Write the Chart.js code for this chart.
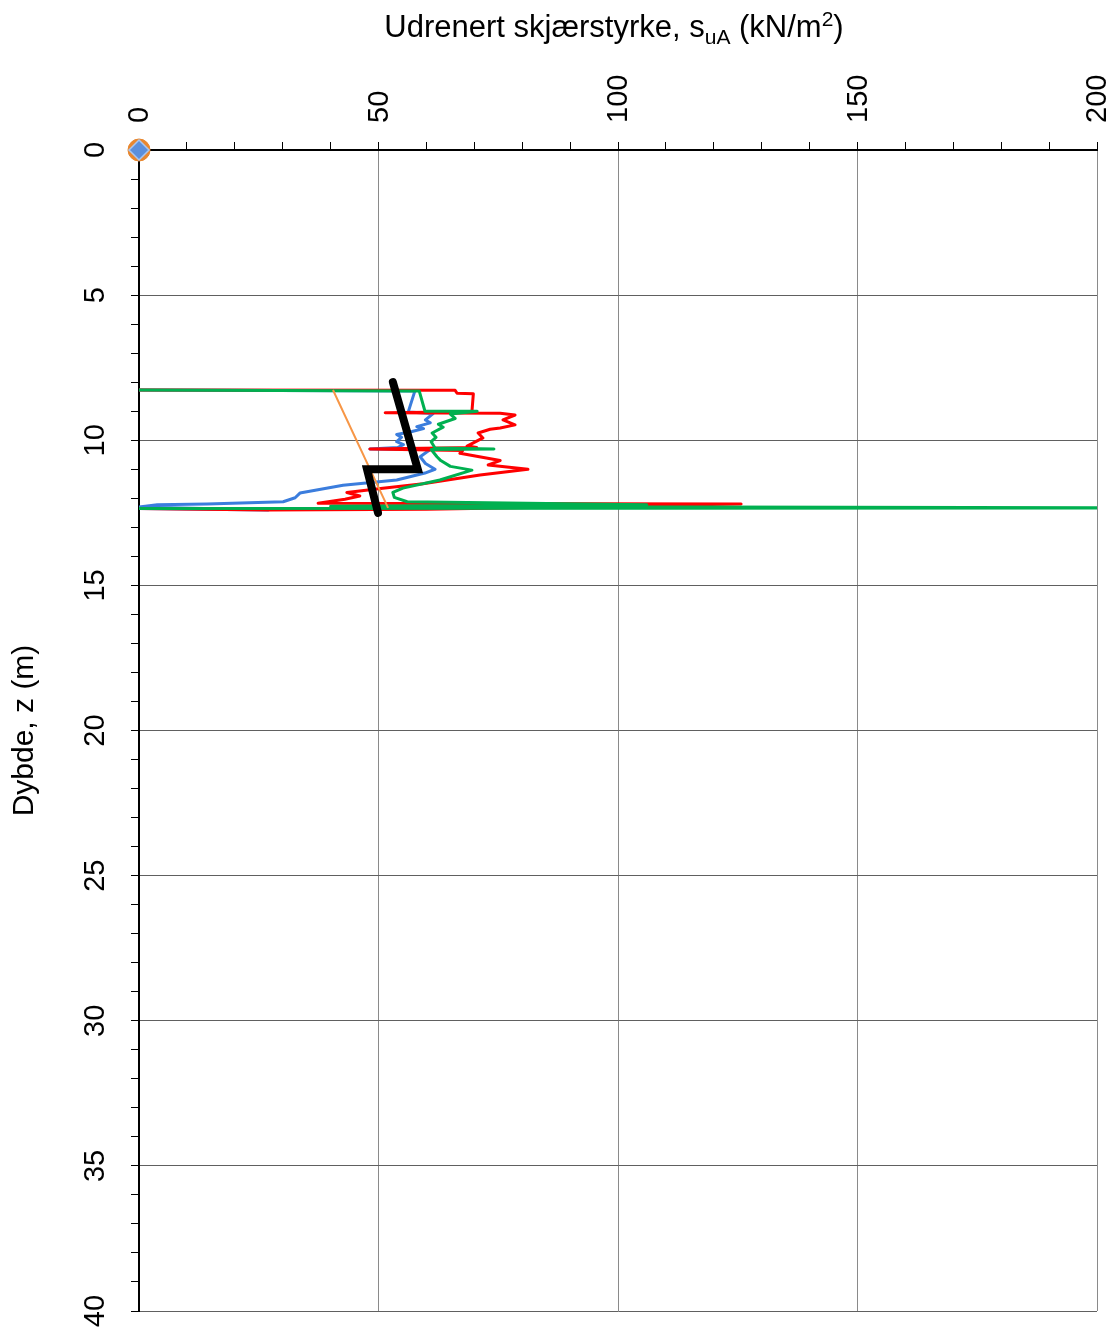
<!DOCTYPE html>
<html>
<head>
<meta charset="utf-8">
<title>Udrenert skjærstyrke</title>
<script src="https://cdn.jsdelivr.net/npm/chart.js@4"></script>
<style>
  body { margin: 0; background: #fff; }
  #chart { display: block; }
</style>
</head>
<body>
<canvas id="chart" width="1114" height="1331"></canvas>
<script>
// shear strength (kN/m2) vs depth (m)
const redX = [0, 66, 66.4, 69.8, 69.5, 51.4, 75.4, 78.5, 76, 78.5, 75.4, 73.3, 70.8, 71.8, 69.7, 68.5, 70.5, 48.2, 67.6, 67, 75.4, 72.9, 81.2, 71.2, 59.3, 50.9, 43.4, 46.1, 43, 37.4, 125.7, 60, 27, 0];
const redZ = [8.27, 8.28, 8.38, 8.4, 9.02, 9.05, 9.07, 9.13, 9.3, 9.47, 9.58, 9.62, 9.75, 9.92, 10.1, 10.2, 10.25, 10.3, 10.35, 10.45, 10.7, 10.85, 11.0, 11.2, 11.5, 11.65, 11.8, 11.92, 12.03, 12.17, 12.2, 12.38, 12.4, 12.35];

const greenX = [0, 58.5, 59.7, 70.6, 65, 66, 62.5, 63.5, 61.2, 62, 61, 61.8, 74.1, 61, 62.2, 63, 65, 69.5, 62.8, 55.1, 53, 53.3, 56, 106, 40, 205, 0];
const greenZ = [8.27, 8.3, 9.0, 9.0, 9.1, 9.25, 9.45, 9.55, 9.75, 9.9, 10.05, 10.27, 10.3, 10.32, 10.57, 10.7, 10.9, 11.03, 11.37, 11.65, 11.8, 11.97, 12.12, 12.22, 12.27, 12.33, 12.35];

const blueX = [0, 57.6, 56.2, 61.4, 59.8, 60.8, 58, 59.4, 57, 53.8, 54.8, 53.8, 55.2, 54, 48.2, 60.8, 58.7, 59.8, 61.8, 59.7, 53.8, 42.6, 33.6, 32.6, 30.1, 14.2, 3.8, 0, 27, 0];
const blueZ = [8.27, 8.3, 9.03, 9.08, 9.3, 9.4, 9.53, 9.6, 9.7, 9.8, 9.9, 10.05, 10.15, 10.25, 10.3, 10.32, 10.57, 10.8, 11.0, 11.13, 11.37, 11.55, 11.82, 11.98, 12.12, 12.2, 12.22, 12.3, 12.4, 12.35];

const orangeX = [40.5, 52];
const orangeZ = [8.27, 12.33];

const designX = [53, 58.2, 47.6, 49.9];
const designZ = [8.0, 11.0, 11.0, 12.5];

const originX = [0];
const originZ = [0];

const FONT = "'Liberation Sans', Arial, sans-serif";

function pts(xs, zs) {
  return xs.map((x, i) => ({ x: x, y: zs[i] }));
}

function lineSet(xs, zs, color, width) {
  return {
    data: pts(xs, zs),
    showLine: true,
    borderColor: color,
    backgroundColor: color,
    borderWidth: width,
    borderJoinStyle: 'round',
    pointRadius: 0,
    pointHoverRadius: 0
  };
}

// title with sub/superscript, drawn as canvas text
const richTitle = {
  id: 'richTitle',
  afterDraw(chart) {
    const ctx = chart.ctx;
    const big = '31px ' + FONT;
    const small = '21px ' + FONT;
    const parts = [
      { t: 'Udrenert skjærstyrke, s', f: big, dy: 0 },
      { t: 'uA', f: small, dy: 7 },
      { t: ' (kN/m', f: big, dy: 0 },
      { t: '2', f: small, dy: -11 },
      { t: ')', f: big, dy: 0 }
    ];
    ctx.save();
    ctx.fillStyle = '#000';
    ctx.textBaseline = 'alphabetic';
    ctx.textAlign = 'left';
    let total = 0;
    parts.forEach(p => { ctx.font = p.f; total += ctx.measureText(p.t).width; });
    let x = 614 - total / 2;
    parts.forEach(p => {
      ctx.font = p.f;
      ctx.fillText(p.t, x, 37 + p.dy);
      x += ctx.measureText(p.t).width;
    });
    ctx.restore();
  }
};

new Chart(document.getElementById('chart'), {
  type: 'scatter',
  data: {
    datasets: [
      { data: pts(originX, originZ), pointStyle: 'rectRot', pointRadius: 10, backgroundColor: '#5b8fdc', borderColor: '#a9c6f0', borderWidth: 1.5, clip: false },
      { data: pts(originX, originZ), pointStyle: 'circle', pointRadius: 11, backgroundColor: '#e8872f', borderColor: '#e8872f', clip: false },
      { data: pts(originX, originZ), pointStyle: 'triangle', pointRadius: 11, backgroundColor: '#4a86e8', borderColor: '#4a86e8', clip: false },
      Object.assign(lineSet(designX, designZ, '#000000', 8), { borderCapStyle: 'round', borderJoinStyle: 'miter' }),
      lineSet(orangeX, orangeZ, '#f79646', 2),
      lineSet(greenX, greenZ, '#00b050', 3),
      lineSet(redX, redZ, '#ff0000', 3),
      lineSet(blueX, blueZ, '#3b7ddd', 3)
    ]
  },
  options: {
    responsive: false,
    animation: false,
    layout: { padding: { right: 17, bottom: 20 } },
    plugins: {
      legend: { display: false },
      tooltip: { enabled: false }
    },
    scales: {
      x: {
        position: 'top',
        min: 0,
        max: 200,
        afterFit(scale) {
          scale.height = 150;
          scale.paddingLeft = 0;
          scale.paddingRight = 0;
        },
        border: { color: '#000', width: 2 },
        grid: {
          color: c => (c.tick && c.tick.value % 50 === 0) ? '#8a8a8a' : 'rgba(0,0,0,0)',
          tickColor: '#000',
          tickLength: 8,
          lineWidth: 1
        },
        ticks: {
          stepSize: 10,
          autoSkip: false,
          minRotation: 90,
          maxRotation: 90,
          padding: 19,
          labelOffset: 36,
          color: '#000',
          font: { family: FONT, size: 29 },
          callback: v => (v % 50 === 0 ? String(v) : '')
        }
      },
      y: {
        reverse: true,
        min: 0,
        max: 40,
        afterFit(scale) {
          scale.width = 139;
          scale.paddingTop = 0;
          scale.paddingBottom = 0;
        },
        border: { color: '#000', width: 2 },
        grid: {
          color: c => (c.tick && c.tick.value % 5 === 0) ? '#606060' : 'rgba(0,0,0,0)',
          tickColor: '#000',
          tickLength: 8,
          lineWidth: 1
        },
        ticks: {
          stepSize: 1,
          autoSkip: false,
          minRotation: 90,
          maxRotation: 90,
          crossAlign: 'center',
          padding: 19,
          color: '#000',
          font: { family: FONT, size: 29 },
          callback: v => (v % 5 === 0 ? String(v) : '')
        },
        title: {
          display: true,
          text: 'Dybde, z (m)',
          color: '#000',
          font: { family: FONT, size: 30 },
          padding: { top: 7, bottom: 0 }
        }
      }
    }
  },
  plugins: [richTitle]
});
</script>
</body>
</html>
